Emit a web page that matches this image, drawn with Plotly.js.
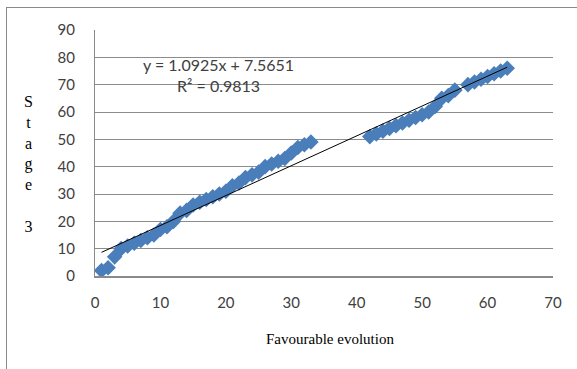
<!DOCTYPE html>
<html>
<head>
<meta charset="utf-8">
<script src="https://cdn.plot.ly/plotly-3.0.1.min.js"></script>
<style>
  html, body { margin: 0; padding: 0; background: #fff; }
  #wrap { position: relative; width: 577px; height: 369px; overflow: hidden; }
  #chart { width: 577px; height: 369px; }
  #frame { position: absolute; left: 6px; top: 7px; width: 620px; height: 420px;
           border: 1.5px solid #8a8a8a; pointer-events: none; box-sizing: border-box; }
</style>
</head>
<body>
<div id="wrap">
  <div id="chart"></div>
  <div id="frame"></div>
</div>
<script>
const favourable = [1,2,3,4,5,6,7,8,9,10,11,12,13,14,15,16,17,18,19,20,21,22,23,24,25,26,27,28,29,30,31,32,33,
  42,43,44,45,46,47,48,49,50,51,52,53,54,55,
  57,58,59,60,61,62,63];
const stage3 = [2,3,7,10,11,12,13,14,15,17,18,20,23,24,26,27,28,29,30,31,33,34,36,37,38,40,41,42,43,45,47,48,49,
  51,52,53,54,55,56,57,58,59,60,62,65,66,68,
  70,71,72,73,74,75,76];
const slope = 1.0925;
const intercept = 7.5651;
const r2 = 0.9813;
const xTicks = [0,10,20,30,40,50,60,70];
const yTicks = [0,10,20,30,40,50,60,70,80,90];

const xMin = Math.min(...favourable), xMax = Math.max(...favourable);

const traces = [
  {
    x: favourable, y: stage3, type: 'scatter', mode: 'markers',
    marker: { symbol: 'diamond', size: 12, color: '#4a7ebb' },
    hoverinfo: 'skip', showlegend: false
  },
  {
    x: [xMin, xMax], y: [slope * xMin + intercept, slope * xMax + intercept],
    type: 'scatter', mode: 'lines',
    line: { color: '#000000', width: 1 },
    hoverinfo: 'skip', showlegend: false
  }
];

const tickFont = { family: 'Lato, "Open Sans", sans-serif', size: 15, color: '#404040' };
const serif = { family: '"Liberation Serif", "DejaVu Serif", serif', size: 15, color: '#000' };

const layout = {
  width: 577, height: 369,
  margin: { l: 95, r: 24, t: 30, b: 93 },
  paper_bgcolor: '#ffffff', plot_bgcolor: '#ffffff',
  showlegend: false,
  xaxis: {
    range: [0, 70], tickvals: xTicks, ticktext: xTicks.map(String),
    showgrid: false, zeroline: false,
    showline: true, linecolor: '#8a8a8a', linewidth: 1.5,
    ticks: '', tickfont: tickFont, ticklabelstandoff: 12
  },
  yaxis: {
    range: [0, 90], tickvals: yTicks, ticktext: yTicks.map(String),
    showgrid: true, gridcolor: '#8c8c8c', gridwidth: 1,
    zeroline: false,
    showline: true, linecolor: '#8a8a8a', linewidth: 1,
    ticks: '', tickfont: tickFont, ticklabelstandoff: 16
  },
  annotations: [
    {
      xref: 'paper', yref: 'paper', x: 0.513, y: -0.256,
      xanchor: 'center', yanchor: 'middle', showarrow: false,
      text: 'Favourable evolution', font: serif
    },
    {
      xref: 'paper', yref: 'paper', x: -0.146, y: 0.455,
      xanchor: 'center', yanchor: 'middle', showarrow: false,
      text: 'S<br>t<br>a<br>g<br>e<br> <br>3', font: { family: serif.family, size: 16, color: '#000' }
    },
    {
      xref: 'paper', yref: 'paper', x: 0.269, y: 0.819,
      xanchor: 'center', yanchor: 'middle', showarrow: false, align: 'center',
      text: 'y = ' + slope.toFixed(4) + 'x + ' + intercept.toFixed(4) + '<br>R² = ' + r2.toFixed(4),
      font: { family: 'Lato, "Open Sans", sans-serif', size: 16, color: '#404040' }
    }
  ]
};

Plotly.newPlot('chart', traces, layout, { staticPlot: true, displayModeBar: false });
</script>
</body>
</html>
